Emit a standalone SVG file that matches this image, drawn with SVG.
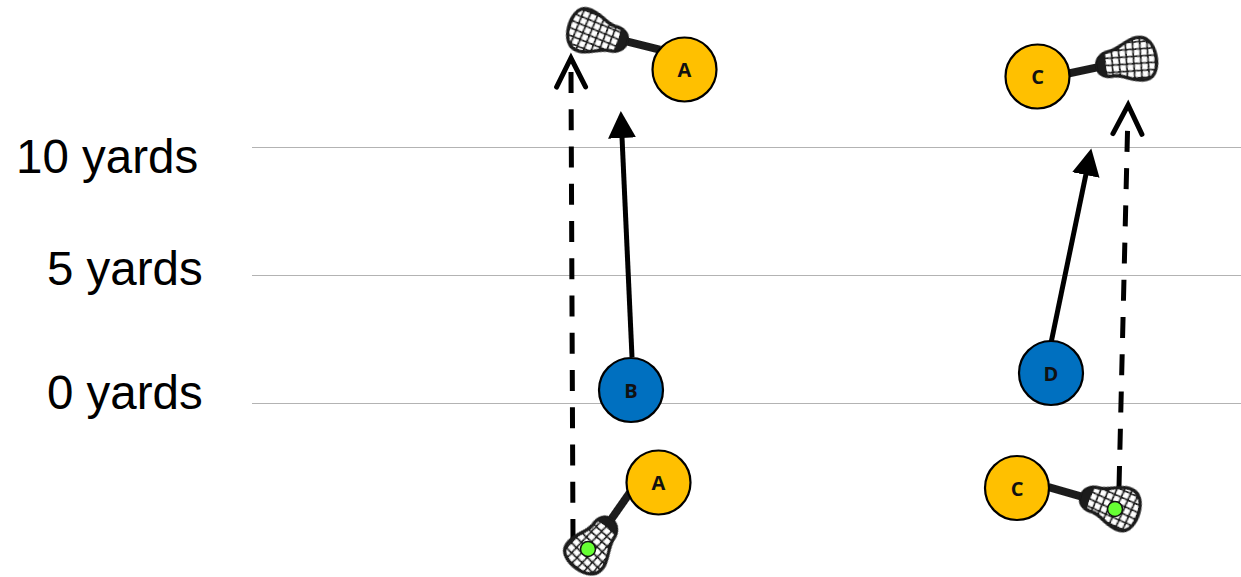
<svg xmlns="http://www.w3.org/2000/svg" width="1241" height="577" viewBox="0 0 1241 577">
<style>
.grid{stroke:#b3b3b3;stroke-width:1.2;fill:none}
.lbl{font-family:"Liberation Sans",Arial,sans-serif;font-size:47.500px;fill:#000}
.p{stroke:#000;stroke-width:2.2}
.y{fill:#ffc000}.b{fill:#0070c0}
.t{font-family:"Open Sans","Liberation Sans",sans-serif;font-weight:700;font-size:20px;fill:#111;text-anchor:middle}
.solid{stroke:#000;stroke-width:5;fill:none}
.dash{stroke:#000;stroke-width:5;fill:none;stroke-dasharray:21 16.250}
.ball{fill:#66ff33;stroke:#111;stroke-width:1.5}
</style>
<defs>
<pattern id="net" width="7.200" height="7.200" patternUnits="userSpaceOnUse" patternTransform="rotate(8)">
<rect width="7.200" height="7.200" fill="#fff"/>
<path d="M0 0H7.200M0 0V7.200" stroke="#1a1a1a" stroke-width="3.800"/>
</pattern>
<marker id="tri" markerUnits="userSpaceOnUse" markerWidth="28" markerHeight="28" refX="1" refY="14" orient="auto" viewBox="0 0 28 28">
<path d="M0 0L27 14L0 28Z" fill="#000"/>
</marker>
<marker id="open" markerUnits="userSpaceOnUse" markerWidth="40" markerHeight="36" refX="18" refY="18" orient="auto" viewBox="0 0 40 36">
<path d="M3 3.500L32 18L3 32.500" fill="none" stroke="#000" stroke-width="5" stroke-linecap="round" stroke-linejoin="miter"/>
</marker>
<filter id="soft" x="-10%" y="-10%" width="120%" height="120%"><feGaussianBlur stdDeviation="0.400"/></filter>
<g id="stick" filter="url(#soft)">
<path d="M0 0H36" stroke="#1a1a1a" stroke-width="8"/>
<path d="M2 0C2-8-5-12-14-12C-24-13-30-22-44-22C-54-22-58-10-58 0C-58 10-54 21-42 21C-30 21-24 13-12 13C-5 13 2 8 2 0Z" fill="url(#net)" stroke="#1a1a1a" stroke-width="3.500"/>
<path d="M2 0C2-7-2-11-7-12V12.500C-2 11 2 7 2 0Z" fill="#1a1a1a"/>
</g>
</defs>

<g id="gridlines">
<path class="grid" d="M252 147.500H1241M252 275.500H1241M252 403.500H1241"/>
</g>
<g id="labels">
<text class="lbl" x="16" y="173">10 yards</text>
<text class="lbl" x="47" y="285">5 yards</text>
<text class="lbl" x="47" y="409">0 yards</text>
</g>

<g id="connectors">
<path class="dash" d="M573 540L571 72" marker-end="url(#open)"/>
<path class="solid" d="M632 357L622 137" marker-end="url(#tri)"/>
<path class="dash" d="M1119 487L1127.800 119" marker-end="url(#open)"/>
<path class="solid" d="M1051 343L1086 174" marker-end="url(#tri)"/>
</g>

<g id="stick-a-top"><use href="#stick" transform="translate(625 41) rotate(14)"/></g>
<g id="stick-c-top"><use href="#stick" transform="translate(1099 67) rotate(168)"/></g>
<g id="stick-a-bottom"><use href="#stick" transform="translate(610 521) rotate(-55)"/></g>
<g id="stick-c-bottom"><use href="#stick" transform="translate(1083 497) rotate(196)"/></g>

<g id="node-a-top"><circle class="p y" cx="684.500" cy="69.500" r="32"/><text class="t" x="684.500" y="77">A</text></g>
<g id="node-c-top"><circle class="p y" cx="1037.500" cy="76.500" r="32"/><text class="t" x="1037.500" y="84">C</text></g>
<g id="node-b"><circle class="p b" cx="631" cy="390" r="32"/><text class="t" x="631" y="398">B</text></g>
<g id="node-d"><circle class="p b" cx="1051" cy="373" r="32"/><text class="t" x="1051" y="381">D</text></g>
<g id="node-a-bottom"><circle class="p y" cx="658.500" cy="482.500" r="32"/><text class="t" x="658.500" y="490">A</text></g>
<g id="node-c-bottom"><circle class="p y" cx="1017" cy="488" r="32"/><text class="t" x="1017" y="496">C</text></g>
<g id="ball-a"><circle class="ball" cx="588" cy="549" r="7.500"/></g>
<g id="ball-c"><circle class="ball" cx="1115" cy="509" r="7.500"/></g>
</svg>
